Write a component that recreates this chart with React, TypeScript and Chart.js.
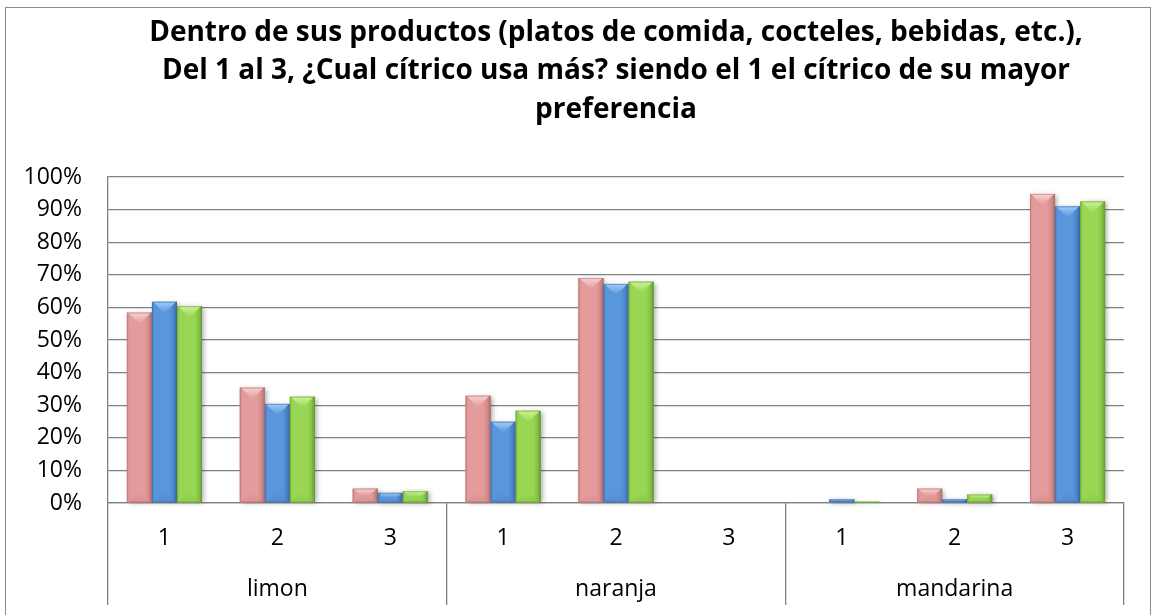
import { useEffect, useRef } from 'react';
import { Chart, registerables } from 'chart.js';

Chart.register(...registerables);

const titleLines = [
  'Dentro de sus productos (platos de comida, cocteles, bebidas, etc.),',
  'Del 1 al 3, ¿Cual cítrico usa más? siendo el 1 el cítrico de su mayor',
  'preferencia',
];
const groups = ['limon', 'naranja', 'mandarina'];
const ranks = ['1', '2', '3'];
const seriesA = [0.584, 0.354, 0.044, 0.329, 0.69, 0, 0, 0.044, 0.948];
const seriesB = [0.617, 0.304, 0.031, 0.249, 0.672, 0, 0.011, 0.011, 0.91];
const seriesC = [0.604, 0.326, 0.036, 0.283, 0.679, 0, 0.004, 0.026, 0.925];
const seriesNames = ['Serie 1', 'Serie 2', 'Serie 3'];

const palettes = [
  { main: '#E39B9B', light: '#F8D2D2', dark: '#B46F6F', edge: '#D38B8B' },
  { main: '#5A96DC', light: '#A0CCF8', dark: '#3A6AA8', edge: '#4B85CB' },
  { main: '#98D654', light: '#CDF29A', dark: '#689D34', edge: '#87C446' },
];

const FONT = '"Open Sans", "Liberation Sans", sans-serif';
const GRID = '#808080';

const framePlugin = {
  id: 'frame',
  beforeDraw(chart: any) {
    const { ctx, width, height } = chart;
    ctx.save();
    ctx.fillStyle = '#ffffff';
    ctx.fillRect(0, 0, width, height);
    ctx.strokeStyle = '#8a8a8a';
    ctx.lineWidth = 1;
    ctx.strokeRect(5.5, 7.5, width - 9, height + 20);
    ctx.restore();
  },
};

const titlePlugin = {
  id: 'multiTitle',
  afterDraw(chart: any) {
    const { ctx, chartArea } = chart;
    const cx = (chartArea.left + chartArea.right) / 2;
    ctx.save();
    ctx.fillStyle = '#000';
    ctx.font = `bold 28px ${FONT}`;
    ctx.textAlign = 'center';
    ctx.textBaseline = 'middle';
    titleLines.forEach((line, i) => {
      ctx.fillText(line, cx, 33 + i * 38.5);
    });
    ctx.restore();
  },
};

const groupLabelPlugin = {
  id: 'groupLabels',
  afterDraw(chart: any) {
    const { ctx } = chart;
    const xs = chart.scales.x;
    ctx.save();
    ctx.fillStyle = '#000';
    ctx.font = `23px ${FONT}`;
    ctx.textAlign = 'center';
    ctx.textBaseline = 'middle';
    groups.forEach((g, gi) => {
      const px = xs.getPixelForValue(gi * ranks.length + 1);
      ctx.fillText(g, px, xs.top + 86);
    });
    ctx.restore();
  },
};

const bevelBarPlugin = {
  id: 'bevelBars',
  afterDatasetsDraw(chart: any) {
    const { ctx } = chart;
    chart.data.datasets.forEach((_ds: any, di: number) => {
      const meta = chart.getDatasetMeta(di);
      const pal = palettes[di];
      meta.data.forEach((el: any) => {
        const { x, y, base, width } = el.getProps(['x', 'y', 'base', 'width'], true);
        const left = x - width / 2;
        const right = x + width / 2;
        const top = Math.min(y, base);
        const bottom = Math.max(y, base);
        const h = bottom - top;
        if (h < 0.6) return;
        ctx.save();
        ctx.shadowColor = 'rgba(0,0,0,0.35)';
        ctx.shadowBlur = 5;
        ctx.shadowOffsetX = 2;
        ctx.shadowOffsetY = 1;
        const g = ctx.createLinearGradient(left, 0, right, 0);
        g.addColorStop(0, pal.edge);
        g.addColorStop(0.12, pal.main);
        g.addColorStop(0.7, pal.main);
        g.addColorStop(0.86, pal.edge);
        g.addColorStop(1, pal.dark);
        ctx.fillStyle = g;
        ctx.fillRect(left, top, width, h);
        ctx.restore();
        ctx.save();
        const bev = Math.min(width / 2, h / 2, 11);
        const tg = ctx.createLinearGradient(0, top, 0, top + bev);
        tg.addColorStop(0, pal.light);
        tg.addColorStop(1, pal.main);
        ctx.fillStyle = tg;
        ctx.beginPath();
        ctx.moveTo(left + 1, top);
        ctx.lineTo(right - 1, top);
        ctx.lineTo(x + Math.max(0, width / 2 - bev) - 1, top + bev);
        ctx.lineTo(x - Math.max(0, width / 2 - bev) + 1, top + bev);
        ctx.closePath();
        ctx.fill();
        const bg = ctx.createLinearGradient(0, bottom, 0, bottom - bev);
        bg.addColorStop(0, pal.edge);
        bg.addColorStop(1, pal.main);
        ctx.globalAlpha = 0.6;
        ctx.fillStyle = bg;
        ctx.beginPath();
        ctx.moveTo(left + 1, bottom);
        ctx.lineTo(right - 1, bottom);
        ctx.lineTo(x + Math.max(0, width / 2 - bev) - 1, bottom - bev);
        ctx.lineTo(x - Math.max(0, width / 2 - bev) + 1, bottom - bev);
        ctx.closePath();
        ctx.fill();
        ctx.globalAlpha = 0.55;
        ctx.strokeStyle = pal.dark;
        ctx.lineWidth = 1;
        ctx.strokeRect(left + 0.5, top + 0.5, width - 1, Math.max(0, h - 1));
        ctx.restore();
      });
    });
  },
};

export default function App() {
  const canvasRef = useRef<HTMLCanvasElement | null>(null);

  useEffect(() => {
    if (!canvasRef.current) return;
    const labels = groups.flatMap(() => ranks);
    const values = [seriesA, seriesB, seriesC];
    const chart = new Chart(canvasRef.current, {
      type: 'bar',
      data: {
        labels,
        datasets: values.map((v, i) => ({
          label: seriesNames[i],
          data: v,
          backgroundColor: palettes[i].main,
          borderWidth: 0,
          categoryPercentage: 0.665,
          barPercentage: 1.0,
        })),
      },
      options: {
        animation: false,
        responsive: true,
        maintainAspectRatio: false,
        layout: { padding: { top: 177, right: 30, left: 0, bottom: 0 } },
        plugins: {
          legend: { display: false },
          title: { display: false },
          tooltip: { enabled: false },
        },
        scales: {
          x: {
            offset: true,
            grid: {
              offset: true,
              drawOnChartArea: false,
              drawTicks: true,
              tickLength: 102,
              color: (c: any) =>
                c.index === undefined || c.index % ranks.length === 0 ? GRID : 'rgba(0,0,0,0)',
              lineWidth: 1.3,
            },
            border: { display: true, color: GRID, width: 1.3 },
            ticks: {
              color: '#000',
              font: { family: FONT, size: 23 },
              padding: -80,
              maxRotation: 0,
              autoSkip: false,
            },
            afterFit: (scale: any) => {
              scale.height = 112;
            },
          },
          y: {
            min: 0,
            max: 1,
            grid: { color: GRID, lineWidth: 1.3, drawTicks: false },
            border: { display: true, color: GRID, width: 1.3 },
            ticks: {
              stepSize: 0.1,
              color: '#000',
              font: { family: FONT, size: 23 },
              padding: 26,
              callback: (v: any) => `${Math.round(Number(v) * 100)}%`,
            },
            afterFit: (scale: any) => {
              scale.width = 108;
            },
          },
        },
      },
      plugins: [framePlugin, titlePlugin, groupLabelPlugin, bevelBarPlugin],
    });
    return () => chart.destroy();
  }, []);

  return (
    <div style={{ position: 'absolute', left: 0, top: 0, width: 1154, height: 615 }}>
      <canvas ref={canvasRef} />
    </div>
  );
}
